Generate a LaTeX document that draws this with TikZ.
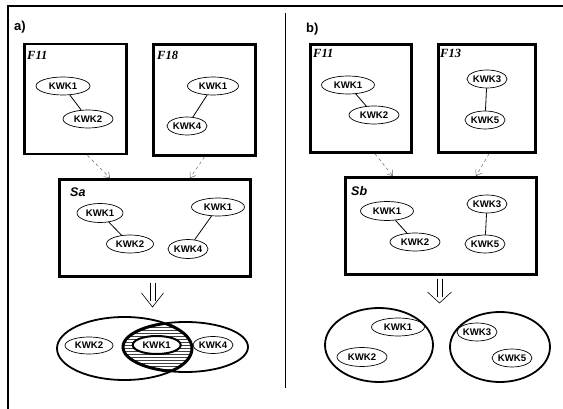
\documentclass[tikz,border=0pt]{standalone}
\usepackage{fontspec}
\setmainfont{Liberation Serif}
\setsansfont{Liberation Sans}
\usetikzlibrary{shapes.geometric,arrows.meta,patterns}
\begin{document}
\begin{tikzpicture}[x=1pt,y=-1pt,
 kw/.style={ellipse,draw,line width=0.7pt,inner sep=0,minimum height=18pt,font=\sffamily\bfseries\fontsize{9.6}{10}\selectfont},
 frame/.style={draw,line width=2.8pt,inner sep=0},
 flabel/.style={font=\rmfamily\bfseries\itshape\fontsize{12.5}{13}\selectfont,anchor=west,inner sep=0},
 slabel/.style={font=\sffamily\bfseries\itshape\fontsize{12.5}{13}\selectfont,anchor=west,inner sep=0},
 plabel/.style={font=\sffamily\bfseries\fontsize{13}{14}\selectfont,anchor=west,inner sep=0},
 dasharrow/.style={draw=black!60,dashed,line width=0.5pt,-{Straight Barb[length=5pt,width=7pt]}},
 link/.style={line width=0.8pt},
 setline/.style={line width=1.8pt},
 dbl/.style={line width=0.6pt}
 ]
\useasboundingbox (0,0) rectangle (563,409);
% outer frame and divider
\draw[line width=2.5pt] (563,6) coordinate (tr) -- (8,6) coordinate (tl) -- (8,409) coordinate (bl);
\draw[line width=0.8pt] (285,13) coordinate (dtop) -- (285,388) coordinate (dbot);

% ---------------- part a ----------------
\node[plabel] (pa) at (14,27) {a)};
\node[frame,minimum width=102pt,minimum height=110pt] (F11a) at (75.5,99) {};
\node[flabel] (lF11a) at (27,55) {F11};
\node[kw,minimum width=54pt] (a1k1) at (63,86) {KWK1};
\node[kw,minimum width=50pt] (a1k2) at (88,119) {KWK2};
\draw[link] (a1k1) -- (a1k2);

\node[frame,minimum width=102pt,minimum height=111pt] (F18) at (204.5,100) {};
\node[flabel] (lF18) at (157,55) {F18};
\node[kw,minimum width=51pt] (a2k1) at (213,86) {KWK1};
\node[kw,minimum width=38pt] (a2k4) at (187,126) {KWK4};
\draw[link] (a2k1) -- (a2k4);

\node[frame,minimum width=191pt,minimum height=97pt] (Sa) at (155,228) {};
\node[slabel] (lSa) at (70,192) {Sa};
\node[kw,minimum width=46pt,minimum height=19pt] (s1k1) at (100,213) {KWK1};
\node[kw,minimum width=47pt] (s1k2) at (130,244) {KWK2};
\draw[link] (s1k1) -- (s1k2);
\node[kw,minimum width=53pt] (s1k1b) at (218,207) {KWK1};
\node[kw,minimum width=38pt,minimum height=19pt] (s1k4) at (188,249) {KWK4};
\draw[link] (s1k1b) -- (s1k4);

\draw[dasharrow] ([xshift=12pt]F11a.south) -- ([xshift=-45pt]Sa.north);
\draw[dasharrow] (F18.south) -- ([xshift=35pt]Sa.north);

% double arrow a
\coordinate (da) at (152.5,283);
\draw[dbl] (da) ++(-2.5,0) -- ++(0,18);
\draw[dbl] (da) ++(2.5,0) -- ++(0,18);
\draw[dbl] (da) ++(-11,10) -- ++(11,14) -- ++(11,-14);

% Venn a
\begin{scope}
 \clip (124.5,348.5) ellipse [x radius=67.5, y radius=31.5];
 \fill[pattern=horizontal lines,pattern color=black!75] (185.5,347) ellipse [x radius=62.5, y radius=25];
\end{scope}
\draw[setline] (124.5,348.5) ellipse [x radius=67.5, y radius=31.5];
\draw[setline] (185.5,347) ellipse [x radius=62.5, y radius=25];
\begin{scope}
 \clip (124.5,348.5) ellipse [x radius=67.5, y radius=31.5];
 \draw[line width=3pt] (185.5,347) ellipse [x radius=62.5, y radius=25];
\end{scope}
\begin{scope}
 \clip (185.5,347) ellipse [x radius=62.5, y radius=25];
 \draw[line width=3pt] (124.5,348.5) ellipse [x radius=67.5, y radius=31.5];
\end{scope}
\node[kw,minimum width=48pt,minimum height=17pt] (v1k2) at (89,345.5) {KWK2};
\node[kw,fill=white,line width=2pt,minimum width=48pt,minimum height=18pt] (v1k1) at (156.7,345) {KWK1};
\node[kw,minimum width=40pt,minimum height=17pt] (v1k4) at (213,345) {KWK4};

% ---------------- part b ----------------
\node[plabel] (pb) at (306,29) {b)};
\node[frame,minimum width=101pt,minimum height=108pt] (F11b) at (361,98.5) {};
\node[flabel] (lF11b) at (313,53) {F11};
\node[kw,minimum width=53pt] (b1k1) at (348,85) {KWK1};
\node[kw,minimum width=50pt] (b1k2) at (374,115) {KWK2};
\draw[link] (b1k1) -- (b1k2);

\node[frame,minimum width=97pt,minimum height=108pt] (F13) at (487,98.5) {};
\node[flabel] (lF13) at (440,53) {F13};
\node[kw,minimum width=33pt] (b2k3) at (487,79) {KWK3};
\node[kw,minimum width=40pt] (b2k5) at (485,120) {KWK5};
\draw[link] (b2k3) -- (b2k5);

\node[frame,minimum width=191pt,minimum height=97pt] (Sb) at (441,226) {};
\node[slabel] (lSb) at (351,191) {Sb};
\node[kw,minimum width=53pt,minimum height=19pt] (s2k1) at (387,211) {KWK1};
\node[kw,minimum width=50pt] (s2k2) at (415,242) {KWK2};
\draw[link] (s2k1) -- (s2k2);
\node[kw,minimum width=33pt] (s2k3) at (487,204) {KWK3};
\node[kw,minimum width=40pt] (s2k5) at (485,244) {KWK5};
\draw[link] (s2k3) -- (s2k5);

\draw[dasharrow] ([xshift=14pt]F11b.south) -- ([xshift=-48pt]Sb.north);
\draw[dasharrow] ([xshift=2pt]F13.south) -- ([xshift=35pt]Sb.north);

% double arrow b
\coordinate (db) at (439.5,279);
\draw[dbl] (db) ++(-2.5,0) -- ++(0,18);
\draw[dbl] (db) ++(2.5,0) -- ++(0,18);
\draw[dbl] (db) ++(-12,13) -- ++(12,11) -- ++(12,-11);

% sets b
\node[ellipse,draw,setline,minimum width=108pt,minimum height=74pt,inner sep=0] (setL) at (379,345) {};
\node[ellipse,draw,setline,minimum width=100pt,minimum height=70pt,inner sep=0] (setR) at (500,347) {};
\node[kw,minimum width=53pt] (v2k1) at (398,327) {KWK1};
\node[kw,minimum width=50pt,minimum height=19pt] (v2k2) at (362,357) {KWK2};
\node[kw,minimum width=40pt] (v2k3) at (477,332) {KWK3};
\node[kw,minimum width=39pt] (v2k5) at (512,358) {KWK5};
\end{tikzpicture}
\end{document}
